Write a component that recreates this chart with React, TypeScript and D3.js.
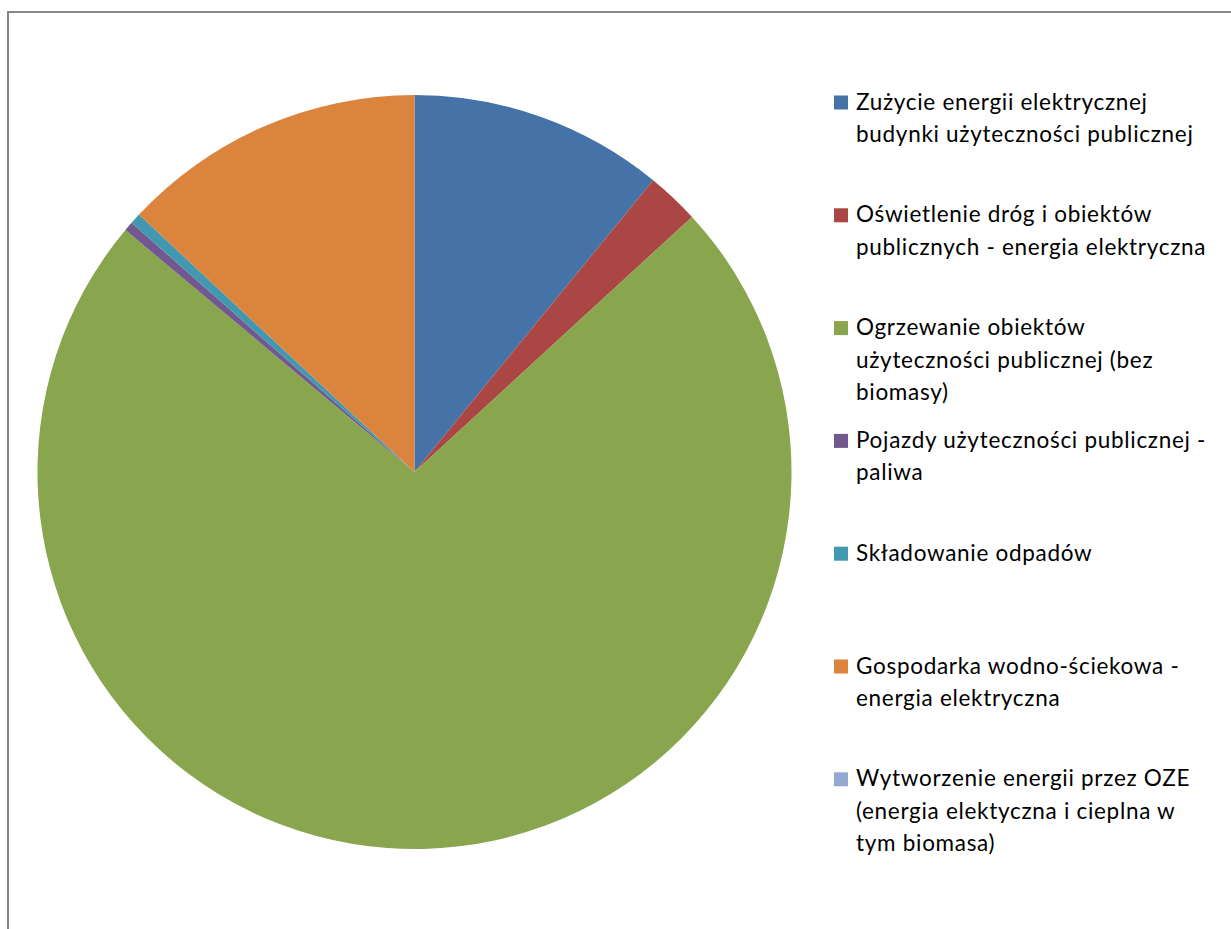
import React from "react";
import * as d3 from "d3";

// Shares of energy use / emissions by sector (percent)
const categories: string[] = [
  "Zużycie energii elektrycznej budynki użyteczności publicznej",
  "Oświetlenie dróg i obiektów publicznych - energia elektryczna",
  "Ogrzewanie obiektów użyteczności publicznej (bez biomasy)",
  "Pojazdy użyteczności publicznej - paliwa",
  "Składowanie odpadów",
  "Gospodarka wodno-ściekowa - energia elektryczna",
  "Wytworzenie energii przez OZE (energia elektyczna i cieplna w tym biomasa)",
];

const values: number[] = [10.91, 2.26, 72.92, 0.4, 0.47, 13.04, 0];

// Legend text, wrapped as drawn
const legendLines: string[][] = [
  ["Zużycie energii elektrycznej", "budynki użyteczności publicznej"],
  ["Oświetlenie dróg i obiektów", "publicznych - energia elektryczna"],
  ["Ogrzewanie obiektów", "użyteczności publicznej (bez", "biomasy)"],
  ["Pojazdy użyteczności publicznej -", "paliwa"],
  ["Składowanie odpadów"],
  ["Gospodarka wodno-ściekowa -", "energia elektryczna"],
  ["Wytworzenie energii przez OZE", "(energia elektyczna i cieplna w", "tym biomasa)"],
];

const colors: string[] = [
  "#4572A7",
  "#AA4643",
  "#89A54E",
  "#71588F",
  "#4198AF",
  "#DB843D",
  "#93A9CF",
];

const W = 1231;
const H = 929;
const cx = 414.5;
const cy = 472;
const radius = 377;

const legendX = 834;
const legendTop = 109.5;
const legendStep = 112.8;
const lineStep = 32.4;
const fontFamily = "Lato, 'Open Sans', 'DejaVu Sans', sans-serif";

export default function App() {
  const data = categories.map((name, i) => ({ name, value: values[i], color: colors[i] }));
  const pie = d3
    .pie<{ name: string; value: number; color: string }>()
    .sort(null)
    .value((d) => d.value)
    .startAngle(0)
    .endAngle(2 * Math.PI);
  const arc = d3
    .arc<d3.PieArcDatum<{ name: string; value: number; color: string }>>()
    .innerRadius(0)
    .outerRadius(radius);
  const arcs = pie(data);

  return (
    <svg
      width={W}
      height={H}
      style={{ position: "absolute", left: 0, top: 0, background: "#fff" }}
    >
      <rect x={8} y={12} width={W + 20} height={H + 20} fill="#fff" stroke="#878787" strokeWidth={2} />
      <g transform={`translate(${cx},${cy})`}>
        {arcs.map((a, i) =>
          a.value > 0 ? <path key={i} d={arc(a) || ""} fill={a.data.color} /> : null
        )}
      </g>
      <g fontFamily={fontFamily} fontSize={22.5} letterSpacing={0.7} fill="#000">
        {legendLines.map((lines, i) => {
          const base = legendTop + i * legendStep;
          return (
            <g key={i}>
              <rect x={legendX} y={base - 14} width={14} height={14} fill={colors[i]} />
              {lines.map((t, j) => (
                <text key={j} x={856} y={base + j * lineStep}>
                  {t}
                </text>
              ))}
            </g>
          );
        })}
      </g>
    </svg>
  );
}
